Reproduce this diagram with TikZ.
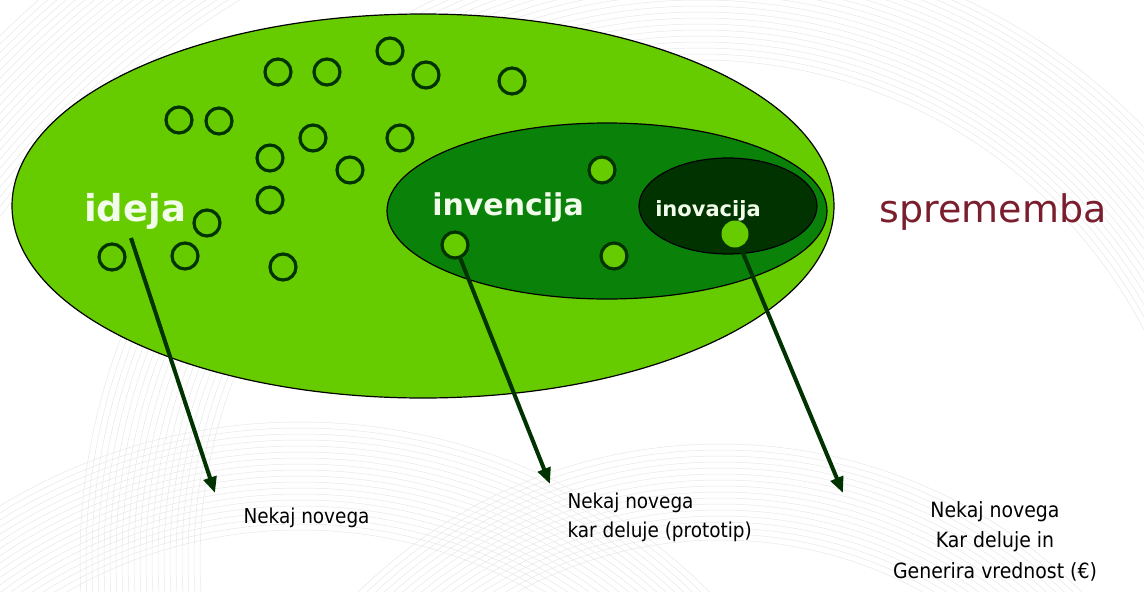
\documentclass[tikz,border=0pt]{standalone}
\usepackage{fontspec}
\setmainfont{DejaVu Sans}
\newfontfamily\narrowfont{DejaVu Sans Condensed}
\usetikzlibrary{arrows.meta}
\definecolor{leaf}{HTML}{66CC00}
\definecolor{forest}{HTML}{0A820A}
\definecolor{pine}{HTML}{003300}
\definecolor{ink}{HTML}{003300}
\definecolor{wine}{HTML}{7A1E2E}
\definecolor{ghost}{HTML}{F2FCEA}

\begin{document}
\begin{tikzpicture}[x=1pt,y=-1pt,
    ring/.style={circle,draw=ink,line width=3.2pt,minimum size=26pt,inner sep=0pt},
    seed/.style={ring,fill=leaf},
    bud/.style={circle,fill=leaf,minimum size=27pt,inner sep=0pt},
    title/.style={text=ghost},
    note/.style={font=\narrowfont\fontsize{20.5}{29}\selectfont,align=left},
    pointer/.style={draw=ink,line width=4pt,-{Triangle[length=16pt,width=13pt]}}]
    \useasboundingbox (0,0) rectangle (1144,592);
    \fill[white] (0,0) rectangle (1144,592);

    \begin{scope}[draw=black!9,line width=0.5pt]
        \clip (0,0) rectangle (1144,592);
        \foreach \r in {880,886,...,1000}
            \draw (700,750) circle[radius=\r];
        \foreach \r in {500,506,...,620}
            \draw (700,560) circle[radius=\r];
        \foreach \r in {470,476,...,580}
            \draw (300,1000) circle[radius=\r];
        \foreach \r in {420,426,...,520}
            \draw (720,960) circle[radius=\r];
    \end{scope}

    \draw[fill=leaf,line width=1.2pt] (423,206) ellipse[x radius=411,y radius=192];
    \draw[fill=forest,line width=1.2pt] (607,211) ellipse[x radius=220,y radius=88];
    \draw[fill=pine,line width=1.2pt] (728,206) ellipse[x radius=89,y radius=48];

    \node[ring] (r1) at (278,72) {};
    \node[ring] (r2) at (327,72) {};
    \node[ring] (r3) at (390,51) {};
    \node[ring] (r4) at (426,75) {};
    \node[ring] (r5) at (512,81) {};
    \node[ring] (r6) at (179,120) {};
    \node[ring] (r7) at (219,121) {};
    \node[ring] (r8) at (313,138) {};
    \node[ring] (r9) at (400,138) {};
    \node[ring] (r10) at (270,158) {};
    \node[ring] (r11) at (350,170) {};
    \node[ring] (r12) at (270,200) {};
    \node[ring] (r13) at (207,223) {};
    \node[ring] (r14) at (112,257) {};
    \node[ring] (r15) at (185,256) {};
    \node[ring] (r16) at (283,267) {};

    \node[seed] (s1) at (602,170) {};
    \node[seed] (s2) at (455,245) {};
    \node[seed] (s3) at (614,256) {};
    \node[bud] (b1) at (735,234) {};

    \node[title,font=\bfseries\fontsize{37}{37}\selectfont] (ideja) at (135,211) {ideja};
    \node[title,font=\bfseries\fontsize{30}{30}\selectfont] (invencija) at (508,207) {invencija};
    \node[title,font=\bfseries\fontsize{21}{21}\selectfont] (inovacija) at (708,211) {inovacija};
    \node[text=wine,font=\fontsize{38}{38}\selectfont] (sprememba) at (993,212) {sprememba};

    \coordinate (f1) at (131,238);
    \coordinate (t1) at (215,493);
    \coordinate (t2) at (550,484);
    \coordinate (t3) at (843,493);
    \draw[pointer] (f1) -- (t1);
    \draw[pointer] (s2) -- (t2);
    \draw[pointer] (b1) -- (t3);

    \node[note,anchor=west] (n1) at (240,518) {Nekaj novega};
    \node[note,anchor=north west] (n2) at (564,489) {Nekaj novega\\kar deluje (prototip)};
    \node[note,font=\narrowfont\fontsize{21}{30.5}\selectfont,align=center,anchor=north] (n3) at (995,498) {Nekaj novega\\Kar deluje in\\Generira vrednost (€)};
\end{tikzpicture}
\end{document}
